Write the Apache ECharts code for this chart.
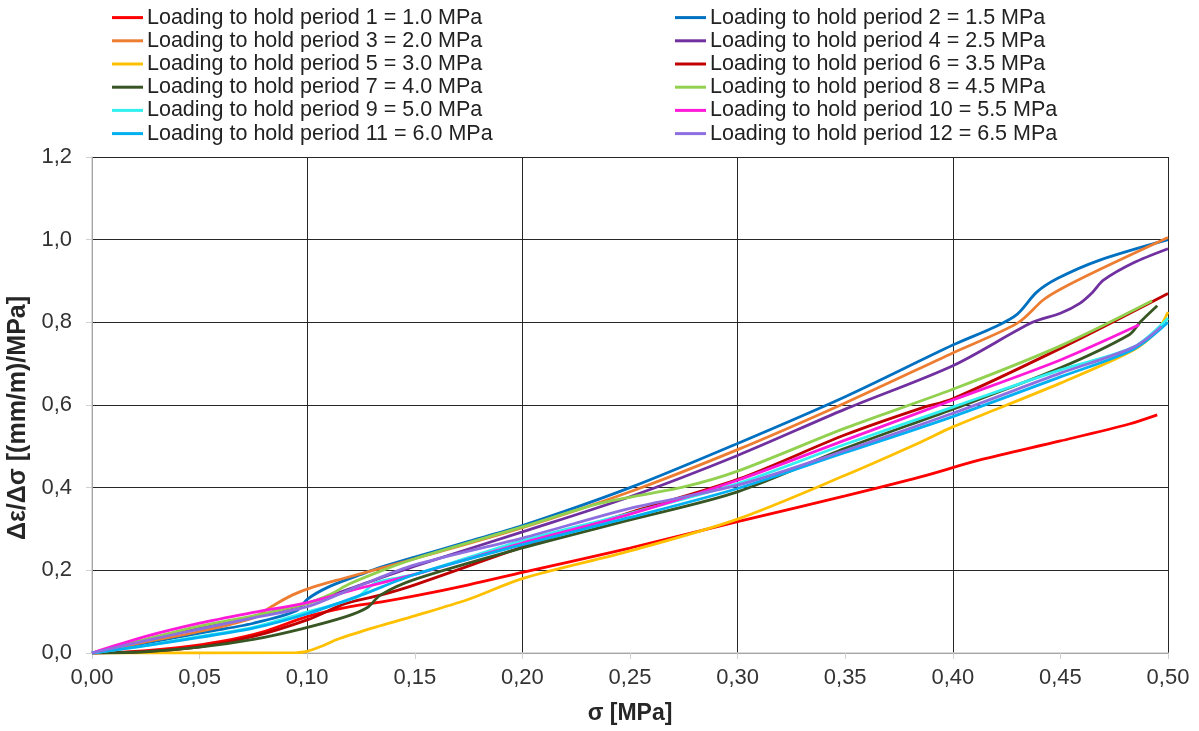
<!DOCTYPE html>
<html>
<head>
<meta charset="utf-8">
<script src="https://cdn.jsdelivr.net/npm/echarts@6/dist/echarts.min.js"></script>
<style>
  html, body { margin: 0; padding: 0; background: #fff; }
  #chart { width: 1199px; height: 731px; }
</style>
</head>
<body>
<div id="chart"></div>
<script>
// Compliance increment vs. stress for each loading step
const names = [
  'Loading to hold period 1 = 1.0 MPa',
  'Loading to hold period 2 = 1.5 MPa',
  'Loading to hold period 3 = 2.0 MPa',
  'Loading to hold period 4 = 2.5 MPa',
  'Loading to hold period 5 = 3.0 MPa',
  'Loading to hold period 6 = 3.5 MPa',
  'Loading to hold period 7 = 4.0 MPa',
  'Loading to hold period 8 = 4.5 MPa',
  'Loading to hold period 9 = 5.0 MPa',
  'Loading to hold period 10 = 5.5 MPa',
  'Loading to hold period 11 = 6.0 MPa',
  'Loading to hold period 12 = 6.5 MPa'
];
const colors = ['#FF0000', '#0070C0', '#ED7D31', '#7030A0', '#FFC000', '#C00000',
                '#375623', '#92D050', '#33F0F0', '#FF1AD9', '#00B0F0', '#8E6FE0'];

// sigma [MPa] and delta-eps/delta-sigma [(mm/m)/MPa] per step
const sigma1 = [0, 0.02, 0.04, 0.06, 0.08, 0.1, 0.12, 0.134, 0.15, 0.175, 0.2, 0.25, 0.3, 0.35, 0.385, 0.4126, 0.45, 0.482, 0.495];
const ratio1 = [0, 0.004, 0.013, 0.028, 0.052, 0.088, 0.112, 0.123, 0.138, 0.165, 0.195, 0.254, 0.318, 0.38, 0.426, 0.467, 0.513, 0.554, 0.576];

const sigma2 = [0, 0.025, 0.05, 0.075, 0.095, 0.1, 0.11, 0.125, 0.134, 0.15, 0.175, 0.2, 0.25, 0.3, 0.35, 0.4, 0.42, 0.43, 0.439, 0.449, 0.468, 0.5];
const ratio2 = [0, 0.024, 0.048, 0.072, 0.102, 0.13, 0.16, 0.19, 0.207, 0.232, 0.27, 0.308, 0.4, 0.507, 0.62, 0.745, 0.79, 0.82, 0.873, 0.907, 0.95, 1.0];

const sigma3 = [0, 0.025, 0.05, 0.075, 0.083, 0.093, 0.103, 0.118, 0.15, 0.2, 0.25, 0.3, 0.35, 0.4, 0.43, 0.442, 0.45, 0.468, 0.5];
const ratio3 = [0, 0.027, 0.052, 0.085, 0.111, 0.14, 0.16, 0.182, 0.228, 0.303, 0.39, 0.492, 0.605, 0.726, 0.798, 0.854, 0.88, 0.927, 1.005];

const sigma4 = [0, 0.025, 0.05, 0.075, 0.1, 0.125, 0.15, 0.2, 0.25, 0.3, 0.35, 0.4, 0.437, 0.45, 0.459, 0.465, 0.47, 0.484, 0.5];
const ratio4 = [0, 0.032, 0.062, 0.088, 0.12, 0.165, 0.21, 0.293, 0.378, 0.478, 0.59, 0.695, 0.8, 0.822, 0.846, 0.873, 0.902, 0.944, 0.978];

const sigma5 = [0, 0.05, 0.095, 0.1, 0.107, 0.115, 0.134, 0.15, 0.175, 0.2, 0.25, 0.3, 0.35, 0.385, 0.4, 0.45, 0.484, 0.495, 0.5];
const ratio5 = [0, 0, 0.001, 0.004, 0.017, 0.035, 0.066, 0.09, 0.13, 0.18, 0.247, 0.324, 0.43, 0.51, 0.547, 0.653, 0.733, 0.78, 0.825];

const sigma6 = [0, 0.025, 0.05, 0.075, 0.1, 0.118, 0.134, 0.15, 0.2, 0.25, 0.3, 0.35, 0.385, 0.4, 0.45, 0.5];
const ratio6 = [0, 0.004, 0.015, 0.04, 0.08, 0.12, 0.14, 0.165, 0.256, 0.34, 0.42, 0.528, 0.592, 0.615, 0.737, 0.87];

const sigma7 = [0, 0.025, 0.05, 0.075, 0.097, 0.118, 0.128, 0.134, 0.15, 0.2, 0.25, 0.3, 0.35, 0.4, 0.45, 0.482, 0.487, 0.495];
const ratio7 = [0, 0.003, 0.014, 0.033, 0.058, 0.088, 0.11, 0.14, 0.178, 0.254, 0.322, 0.39, 0.495, 0.59, 0.69, 0.77, 0.8, 0.84];

const sigma8 = [0, 0.025, 0.05, 0.075, 0.1, 0.11, 0.12, 0.135, 0.15, 0.2, 0.236, 0.275, 0.3, 0.35, 0.4, 0.45, 0.4926];
const ratio8 = [0, 0.033, 0.065, 0.09, 0.12, 0.14, 0.168, 0.2, 0.228, 0.305, 0.362, 0.402, 0.44, 0.544, 0.638, 0.743, 0.852];

const sigma9 = [0, 0.025, 0.05, 0.075, 0.097, 0.123, 0.132, 0.15, 0.2, 0.25, 0.3, 0.35, 0.4, 0.45, 0.484, 0.5];
const ratio9 = [0, 0.018, 0.04, 0.062, 0.095, 0.135, 0.17, 0.19, 0.272, 0.338, 0.41, 0.505, 0.595, 0.685, 0.74, 0.81];

const sigma10 = [0, 0.025, 0.05, 0.075, 0.1, 0.123, 0.15, 0.2, 0.25, 0.3, 0.35, 0.4, 0.45, 0.4866];
const ratio10 = [0, 0.04, 0.072, 0.098, 0.122, 0.155, 0.19, 0.266, 0.336, 0.418, 0.515, 0.612, 0.709, 0.794];

const sigma11 = [0, 0.025, 0.05, 0.075, 0.1, 0.125, 0.15, 0.2, 0.25, 0.3, 0.35, 0.4, 0.45, 0.484, 0.5];
const ratio11 = [0, 0.018, 0.038, 0.06, 0.095, 0.14, 0.19, 0.262, 0.328, 0.398, 0.485, 0.572, 0.668, 0.735, 0.8];

const sigma12 = [0, 0.025, 0.05, 0.075, 0.1, 0.123, 0.15, 0.2, 0.25, 0.3, 0.35, 0.4, 0.45, 0.484, 0.497];
const ratio12 = [0, 0.03, 0.058, 0.085, 0.112, 0.16, 0.213, 0.278, 0.35, 0.406, 0.49, 0.58, 0.677, 0.74, 0.79];

const sigmas = [sigma1, sigma2, sigma3, sigma4, sigma5, sigma6, sigma7, sigma8, sigma9, sigma10, sigma11, sigma12];
const ratios = [ratio1, ratio2, ratio3, ratio4, ratio5, ratio6, ratio7, ratio8, ratio9, ratio10, ratio11, ratio12];

const font = 'Liberation Sans, Arial, sans-serif';
const gridColor = '#262626';

const series = names.map((name, i) => ({
  name: name,
  type: 'line',
  xAxisIndex: 0,
  yAxisIndex: 0,
  data: sigmas[i].map((s, k) => [s, ratios[i][k]]),
  smooth: 0.3,
  showSymbol: false,
  symbol: 'none',
  color: colors[i],
  lineStyle: { color: colors[i], width: 2.8 },
  z: 2 + i
}));

const legendCommon = {
  orient: 'vertical',
  top: 6,
  icon: 'rect',
  itemWidth: 31,
  itemHeight: 3,
  itemGap: 0,
  padding: 0,
  textStyle: { fontFamily: font, fontSize: 21.5, color: '#222', lineHeight: 23.2, padding: [0, 0, 0, -1] }
};

const option = {
  backgroundColor: '#ffffff',
  animation: false,
  grid: { left: 92, right: 31, top: 157, bottom: 78, containLabel: false, outerBoundsMode: 'none' },
  legend: [
    Object.assign({}, legendCommon, { left: 112, data: names.filter((_, i) => i % 2 === 0) }),
    Object.assign({}, legendCommon, { left: 675, data: names.filter((_, i) => i % 2 === 1) })
  ],
  xAxis: [
    {
      type: 'value', min: 0, max: 0.5, interval: 0.05,
      name: 'σ [MPa]', nameLocation: 'middle', nameGap: 49,
      nameTextStyle: { fontFamily: font, fontSize: 23, fontWeight: 'bold', color: '#262626' },
      axisLine: { show: true, lineStyle: { color: '#d0d0d0', width: 1.5 } },
      axisTick: { show: true, length: 6, lineStyle: { color: '#d0d0d0', width: 1 } },
      axisLabel: { margin: 14, fontFamily: font, fontSize: 22, color: '#333',
                   formatter: v => v.toFixed(2).replace('.', ',') },
      splitLine: { show: false }
    },
    {
      // gridlines every 0.1 MPa
      type: 'value', min: 0, max: 0.5, interval: 0.1, position: 'bottom',
      axisLine: { show: false }, axisTick: { show: false }, axisLabel: { show: false },
      splitLine: { show: true, lineStyle: { color: gridColor, width: 1 } }
    }
  ],
  yAxis: [
    {
      type: 'value', min: 0, max: 1.2, interval: 0.2,
      name: 'Δε/Δσ [(mm/m)/MPa]', nameLocation: 'middle', nameGap: 58, nameRotate: 90,
      nameTextStyle: { fontFamily: font, fontSize: 25, fontWeight: 'bold', color: '#262626',
                       padding: [0, 26, 0, 0] },
      axisLine: { show: true, lineStyle: { color: '#d0d0d0', width: 1.5 } },
      axisTick: { show: true, length: 6, lineStyle: { color: '#d0d0d0', width: 1 } },
      axisLabel: { margin: 20, fontFamily: font, fontSize: 22, color: '#333',
                   formatter: v => v.toFixed(1).replace('.', ',') },
      splitLine: { show: true, lineStyle: { color: gridColor, width: 1 } }
    }
  ],
  series: series
};

const chart = echarts.init(document.getElementById('chart'), null, { renderer: 'canvas' });
chart.setOption(option);
</script>
</body>
</html>
